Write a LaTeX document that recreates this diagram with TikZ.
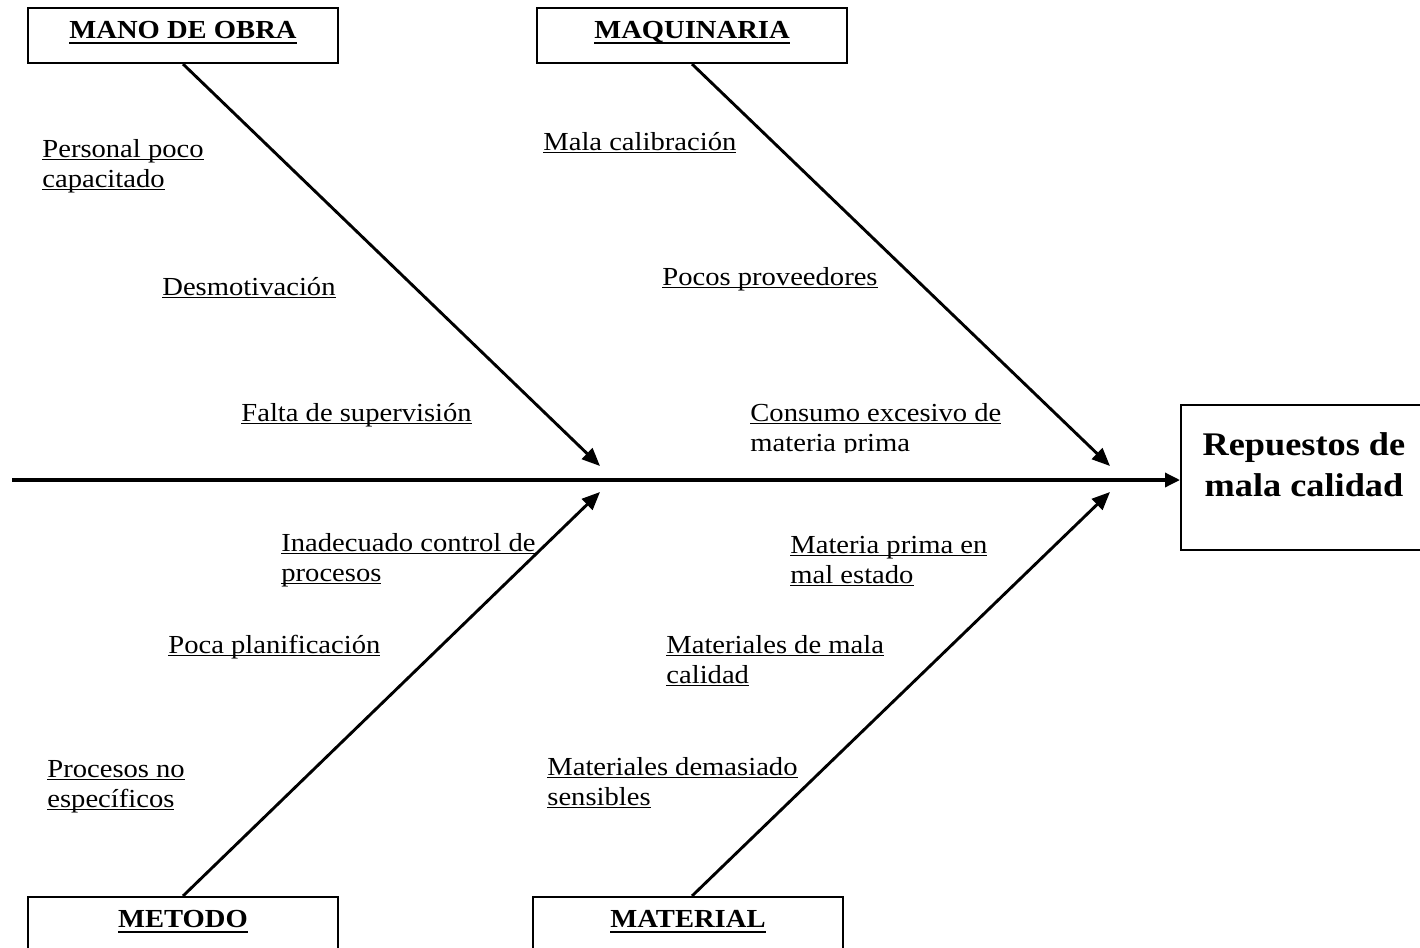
\documentclass[tikz,border=0pt]{standalone}
\usepackage{fontspec}
\setmainfont{Liberation Serif}[FakeStretch=1.1]
\usetikzlibrary{arrows.meta}
% underline at a fixed depth below the baseline: #1 depth, #2 thickness
\newcommand\udl[3]{\setbox0\hbox{#3}\rlap{\rule[-#1]{\wd0}{#2}}\box0}
\newcommand\lab[1]{\udl{1.5pt}{0.6pt}{#1}}
\newcommand\hdr[1]{\udl{2.9pt}{1pt}{#1}}
\newcommand\twolines[2]{\begin{tabular}[t]{@{}l@{}}#1\\#2\end{tabular}}
\tikzset{
  lab/.style={anchor=base west, inner sep=0pt, font=\fontsize{13}{15}\selectfont},
  head/.style={anchor=base, inner sep=0pt, font=\fontsize{13}{15}\selectfont\bfseries},
  catbox/.style={draw, line width=1pt, minimum width=155pt, minimum height=27.5pt, inner sep=0pt},
  bone/.style={line width=1.45pt, -{Triangle[length=9pt,width=7.5pt]}},
  spine/.style={line width=1.7pt, -{Triangle[length=7.5pt,width=7pt]}},
}
\begin{document}
\begin{tikzpicture}[x=0.5pt, y=-0.5pt]
\clip (0,0) rectangle (1420,948);
\fill[white] (0,0) rectangle (1420,948);

% category boxes
\node[catbox] (mo) at (183,35.5) {};
\node[head] (moT) at (183,38) {\hdr{MANO DE OBRA}};
\node[catbox] (maq) at (692,35.5) {};
\node[head] (maqT) at (692,38) {\hdr{MAQUINARIA}};
\node[catbox, minimum height=55pt] (met) at (183,952) {};
\node[head] (metT) at (183,927) {\hdr{METODO}};
\node[catbox, minimum height=55pt] (mat) at (688,952) {};
\node[head] (matT) at (688,927) {\hdr{MATERIAL}};

% effect box
\node[draw, line width=1pt, minimum width=125pt, minimum height=72.5pt, inner sep=0pt] (eff) at (1306,477.5) {};
\node[anchor=base, inner sep=0pt, font=\fontsize{16.5}{20.5}\selectfont\bfseries] (effT) at (1304,455)
  {\begin{tabular}[t]{@{}c@{}}Repuestos de\\mala calidad\end{tabular}};

% spine
\coordinate (tail) at (12,480);
\draw[spine] (tail) -- (tail -| eff.west);

% bones
\coordinate (t1) at (600,466);
\coordinate (t2) at (1110,466);
\coordinate (t3) at (600,492);
\coordinate (t4) at (1110,492);
\draw[bone] (mo.south) -- (t1);
\draw[bone] (maq.south) -- (t2);
\draw[bone] (met.north) -- (t3);
\draw[bone] ([xshift=2pt]mat.north) -- (t4);

% causes: mano de obra
\node[lab] (c1) at (42,157) {\twolines{\lab{Personal poco}}{\lab{capacitado}}};
\node[lab] (c2) at (162,295) {\lab{Desmotivación}};
\node[lab] (c3) at (241,421) {\lab{Falta de supervisión}};
% causes: maquinaria
\node[lab] (c4) at (543,150) {\lab{Mala calibración}};
\node[lab] (c5) at (662,285) {\lab{Pocos proveedores}};
\begin{scope}
  \clip (740,395) rectangle (1030,452);
  \node[lab] (c6) at (750,421) {\twolines{\lab{Consumo excesivo de}}{materia prima}};
\end{scope}
% causes: metodo
\node[lab] (c7) at (281,551) {\twolines{\lab{Inadecuado control de}}{\lab{procesos}}};
\node[lab] (c8) at (168,653) {\lab{Poca planificación}};
\node[lab] (c9) at (47,777) {\twolines{\lab{Procesos no}}{\lab{específicos}}};
% causes: material
\node[lab] (c10) at (790,553) {\twolines{\lab{Materia prima en}}{\lab{mal estado}}};
\node[lab] (c11) at (666,653) {\twolines{\lab{Materiales de mala}}{\lab{calidad}}};
\node[lab] (c12) at (547,775) {\twolines{\lab{Materiales demasiado}}{\lab{sensibles}}};
\end{tikzpicture}
\end{document}
